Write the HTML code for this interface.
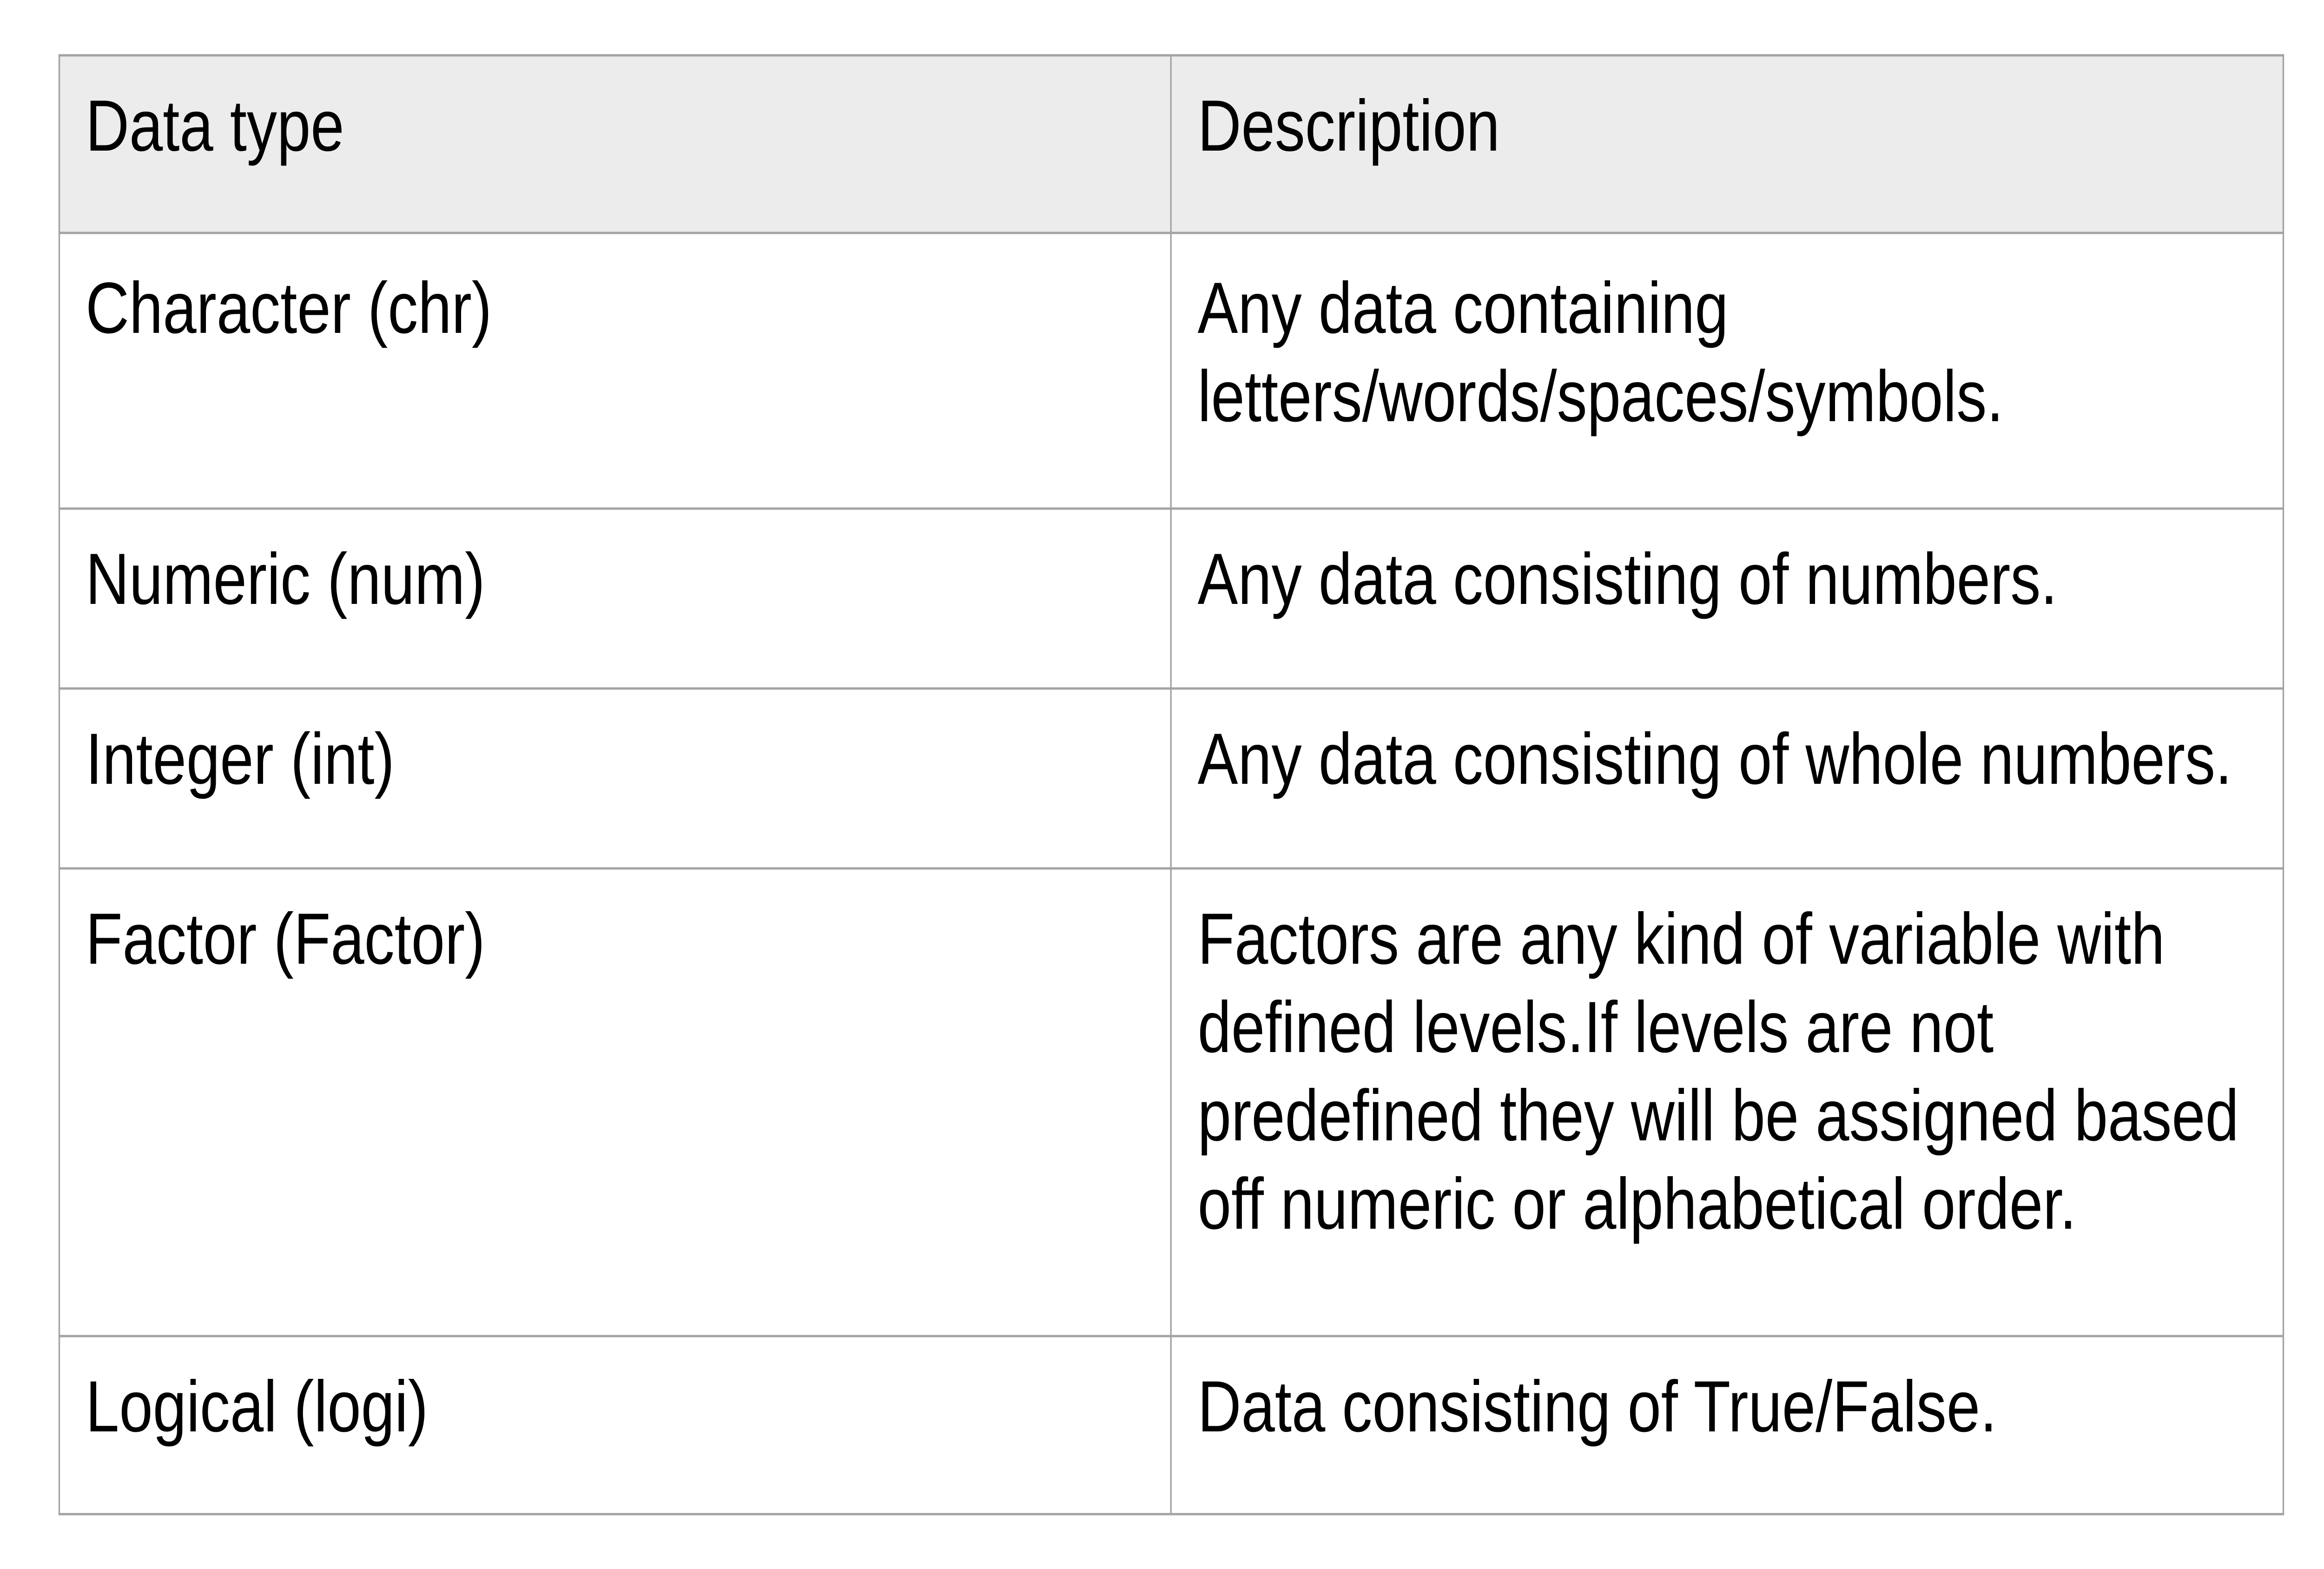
<!DOCTYPE html>
<html><head><meta charset="utf-8"><style>
html,body{margin:0;padding:0;background:#fff;overflow:hidden;}
svg{display:block;width:100vw;height:100vh;}
text{font-family:"Liberation Sans",Arial,sans-serif;font-size:156px;fill:#000;}
</style></head><body>
<svg viewBox="0 0 6000 3375" preserveAspectRatio="none" xmlns="http://www.w3.org/2000/svg">
<rect x="0" y="0" width="6000" height="3375" fill="#fff"/>
<rect x="153" y="119" width="5742" height="383" fill="#ececec"/>
<g stroke="#a3a3a3" stroke-width="5" fill="none">
<line x1="151" y1="119" x2="5897" y2="119"/>
<line x1="151" y1="501" x2="5897" y2="501"/>
<line x1="151" y1="1094" x2="5897" y2="1094"/>
<line x1="151" y1="1481" x2="5897" y2="1481"/>
<line x1="151" y1="1868" x2="5897" y2="1868"/>
<line x1="151" y1="2874" x2="5897" y2="2874"/>
<line x1="151" y1="3257" x2="5897" y2="3257"/>
<line x1="153" y1="117" x2="153" y2="3259" stroke-width="4"/>
<line x1="3023" y1="117" x2="3023" y2="3259" stroke-width="4"/>
<line x1="5895" y1="117" x2="5895" y2="3259" stroke-width="4"/>
</g>
<text x="221" y="324">Data type</text>
<text x="3092" y="324">Description</text>
<text x="221" y="716">Character (chr)</text>
<text x="3092" y="716">Any data containing</text>
<text x="3092" y="906">letters/words/spaces/symbols.</text>
<text x="221" y="1299">Numeric (num)</text>
<text x="3092" y="1299">Any data consisting of numbers.</text>
<text x="221" y="1686">Integer (int)</text>
<text x="3092" y="1686">Any data consisting of whole numbers.</text>
<text x="221" y="2073">Factor (Factor)</text>
<text x="3092" y="2073">Factors are any kind of variable with</text>
<text x="3092" y="2263">defined levels.If levels are not</text>
<text x="3092" y="2453">predefined they will be assigned based</text>
<text x="3092" y="2643">off numeric or alphabetical order.</text>
<text x="221" y="3079">Logical (logi)</text>
<text x="3092" y="3079">Data consisting of True/False.</text>
</svg>
</body></html>
